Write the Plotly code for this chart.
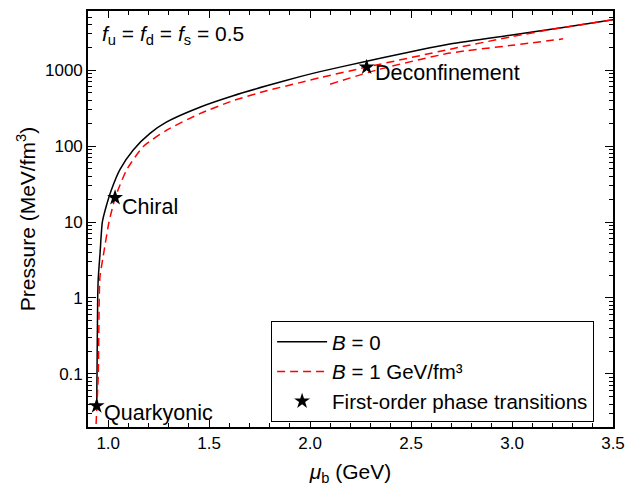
import math
import plotly.graph_objects as go

# ---- data ----
mu_B0 = [0.943, 0.9446, 0.948, 0.951, 0.960, 0.971, 0.990, 1.017, 1.058, 1.124, 1.207, 1.290,
         1.454, 1.619, 1.785, 1.950, 2.049, 2.280, 2.692, 3.000, 3.253, 3.500]
P_B0 = [0.038, 0.1, 1.0, 1.85, 4.0, 10, 16, 27, 49, 89, 147, 208,
        325, 460, 621, 820, 955, 1308, 2200, 2900, 3640, 4600]

mu_B1 = [0.9385, 0.9396, 0.951, 0.959, 0.975, 1.004, 1.020, 1.034, 1.050, 1.092, 1.174, 1.290,
         1.454, 1.619, 1.785, 1.950, 2.049, 2.280, 2.700, 3.000, 3.190, 3.253, 3.500]
P_B1 = [0.01, 0.02, 0.1, 1.85, 3.5, 10, 15, 20.9, 27, 49, 98.5, 162,
        267, 396, 535, 684, 795, 1094, 1900, 2760, 3420, 3640, 4600]

mu_B1_branch = [2.099, 2.346, 2.692, 3.000, 3.253]
P_B1_branch = [653, 1030, 1675, 2120, 2578]

mu_star = [0.943, 1.034, 2.280]
P_star = [0.038, 20.9, 1094]
star_labels = ["Quarkyonic", "Chiral", "Deconfinement"]

x_ticks = [1.0, 1.5, 2.0, 2.5, 3.0, 3.5]
x_ticktext = ["1.0", "1.5", "2.0", "2.5", "3.0", "3.5"]
y_ticks = [0.1, 1, 10, 100, 1000]
y_ticktext = ["0.1", "1", "10", "100", "1000"]
y_minor = [m * 10 ** e for e in range(-2, 4) for m in range(2, 10)]

FONT = "Arial, Liberation Sans, sans-serif"
BIG = 21.5

fig = go.Figure()
fig.add_trace(go.Scatter(x=mu_B0, y=P_B0, mode="lines", name="<i>B</i> = 0",
                         line=dict(color="black", width=1.5, shape="spline", smoothing=0.6)))
fig.add_trace(go.Scatter(x=mu_B1, y=P_B1, mode="lines", name="<i>B</i> = 1 GeV/fm³",
                         line=dict(color="#ff0000", width=1.5, dash="8px,5px",
                                   shape="spline", smoothing=0.6)))
fig.add_trace(go.Scatter(x=mu_B1_branch, y=P_B1_branch, mode="lines", showlegend=False,
                         line=dict(color="#ff0000", width=1.5, dash="8px,5px",
                                   shape="spline", smoothing=0.6)))
fig.add_trace(go.Scatter(x=mu_star, y=P_star, mode="markers", name="First-order phase transitions",
                         marker=dict(symbol="star", color="black", size=12, line=dict(width=0))))

# labels next to stars (x in GeV, y in log10 of pressure)
label_pos = [(0.968, -1.521), (1.058, 1.199), (2.309, 2.961)]
for lab, (lx, ly) in zip(star_labels, label_pos):
    fig.add_annotation(x=lx, y=ly, xref="x", yref="y", text=lab, showarrow=False,
                       xanchor="left", yanchor="middle", font=dict(size=BIG, color="black", family=FONT))

fig.add_annotation(x=0.023, y=0.943, xref="paper", yref="paper",
                   text="<i>f</i><sub>u</sub> = <i>f</i><sub>d</sub> = <i>f</i><sub>s</sub> = 0.5",
                   showarrow=False, xanchor="left", yanchor="middle",
                   font=dict(size=21, color="black", family=FONT))

fig.update_layout(
    width=636, height=489,
    margin=dict(l=88, r=23, t=9, b=57),
    paper_bgcolor="white", plot_bgcolor="white",
    font=dict(family=FONT, color="black", size=17),
    showlegend=True,
    legend=dict(x=0.964, xanchor="right", y=0.012, yanchor="bottom",
                bordercolor="black", borderwidth=1, bgcolor="white",
                itemwidth=50,
                font=dict(size=20.5, family=FONT)),
    xaxis=dict(range=[0.9, 3.5], tickvals=x_ticks, ticktext=x_ticktext,
               showline=True, linecolor="black", linewidth=1.6, mirror="allticks",
               ticks="inside", ticklen=7, tickwidth=1.4, tickcolor="black",
               minor=dict(dtick=0.1, tick0=0.9, ticks="inside", ticklen=4, tickwidth=1.2,
                          tickcolor="black", showgrid=False),
               showgrid=False, zeroline=False,
               title=dict(text="<i>μ</i><sub>b</sub> (GeV)", font=dict(size=21), standoff=12),
               tickfont=dict(size=17)),
    yaxis=dict(type="log", range=[math.log10(0.02), math.log10(6000)],
               tickvals=y_ticks, ticktext=y_ticktext,
               showline=True, linecolor="black", linewidth=1.6, mirror="allticks",
               ticks="inside", ticklen=8, tickwidth=1.4, tickcolor="black",
               minor=dict(tickvals=y_minor, ticks="inside", ticklen=4, tickwidth=1.2,
                          tickcolor="black", showgrid=False),
               showgrid=False, zeroline=False,
               title=dict(text="Pressure (MeV/fm<sup>3</sup>)", font=dict(size=21), standoff=4),
               tickfont=dict(size=17)),
)

fig.write_html("out.html", config={"displayModeBar": False},
               post_script="document.body.style.margin='0';document.body.style.padding='0';")
